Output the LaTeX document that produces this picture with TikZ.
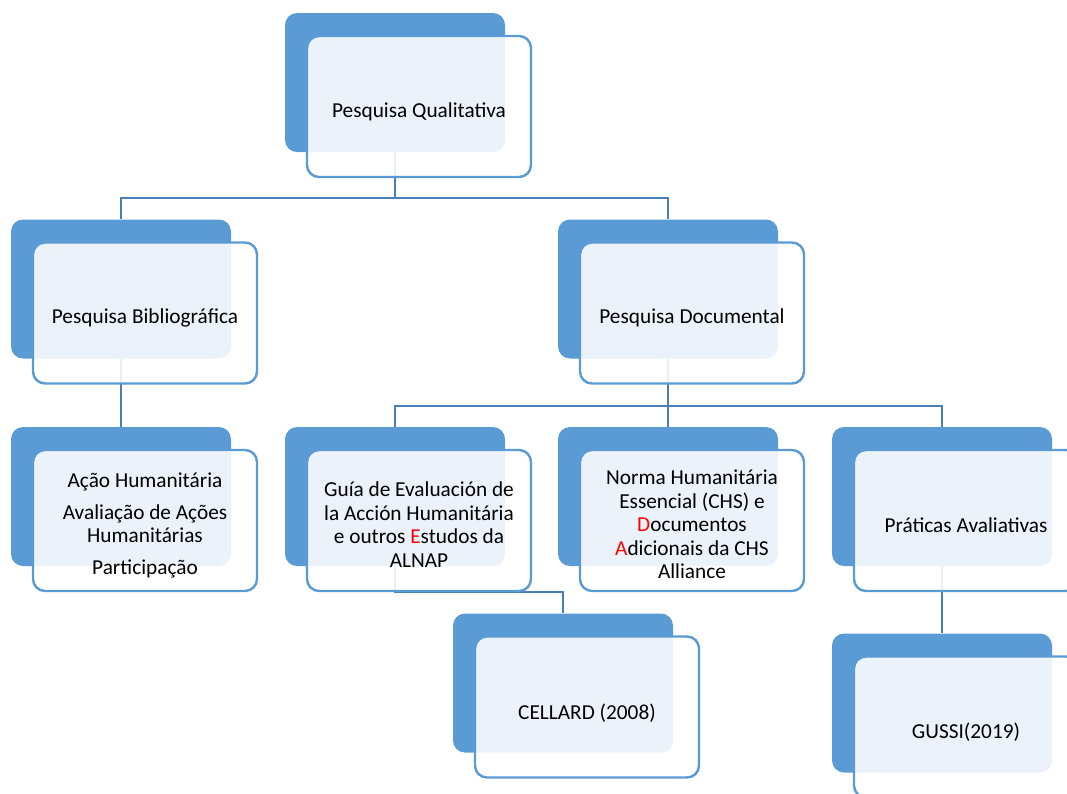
\documentclass[tikz,border=0pt]{standalone}
\usepackage{fontspec}
\setmainfont{Carlito}
\usetikzlibrary{calc}
\definecolor{boxblue}{HTML}{5B9BD5}
\definecolor{linkblue}{HTML}{4A7EBB}
\tikzset{
	backbox/.style={draw=none, fill=boxblue, rounded corners=12pt, minimum width=220pt, minimum height=139pt, inner sep=0pt},
	frontbox/.style={draw=boxblue, line width=2.4pt, fill=white, fill opacity=0.88, rounded corners=12pt, minimum width=224pt, minimum height=141pt, inner sep=0pt},
	boxtext/.style={inner sep=0pt, align=center, font=\fontsize{21.3}{23.5}\selectfont},
	link/.style={draw=linkblue, line width=2.4pt},
}
\newcommand{\redch}[1]{\textcolor{red}{#1}}

\begin{document}
\begin{tikzpicture}[x=1pt, y=-1pt]
		%%%%% START %%%%%
		\useasboundingbox (0,0) rectangle (1067,793);
		
		% back boxes
		\node[backbox] (qualback) at (395, 82.5) {};
		\node[backbox] (biblioback) at (121, 289) {};
		\node[backbox] (docback) at (668, 289) {};
		\node[backbox] (acaoback) at (121, 496.5) {};
		\node[backbox] (guiaback) at (395, 496.5) {};
		\node[backbox] (normaback) at (668, 496.5) {};
		\node[backbox] (praticback) at (942, 496.5) {};
		\node[backbox] (cellback) at (563, 683) {};
		\node[backbox] (gussiback) at (942, 703) {};
		
		% links
		\draw[link] (qualback.south) -- ++(0,46) -| (biblioback.north);
		\draw[link] (qualback.south) -- ++(0,46) -| (docback.north);
		\draw[link] (biblioback.south) -- (acaoback.north);
		\draw[link] (docback.south) -- ++(0,47) -| (guiaback.north);
		\draw[link] (docback.south) -- (normaback.north);
		\draw[link] (docback.south) -- ++(0,47) -| (praticback.north);
		\draw[link] (guiaback.south) -- ++(0,26) -| (cellback.north);
		\draw[link] (praticback.south) -- (gussiback.north);
		
		% front boxes
		\node[frontbox] (qual) at ($(qualback.center)+(24,24)$) {};
		\node[frontbox] (biblio) at ($(biblioback.center)+(24,24)$) {};
		\node[frontbox] (doc) at ($(docback.center)+(24,24)$) {};
		\node[frontbox] (acao) at ($(acaoback.center)+(24,24)$) {};
		\node[frontbox] (guia) at ($(guiaback.center)+(24,24)$) {};
		\node[frontbox] (norma) at ($(normaback.center)+(24,24)$) {};
		\node[frontbox] (pratic) at ($(praticback.center)+(24,24)$) {};
		\node[frontbox] (cell) at ($(cellback.center)+(24,24)$) {};
		\node[frontbox] (gussi) at ($(gussiback.center)+(24,24)$) {};
		
		% texts
		\node[boxtext] (qualtext) at ($(qual.center)+(0,5)$) {Pesquisa Qualitativa};
		\node[boxtext] (bibliotext) at ($(biblio.center)+(0,5)$) {Pesquisa Bibliográfica};
		\node[boxtext] (doctext) at ($(doc.center)+(0,5)$) {Pesquisa Documental};
		\node[boxtext] (acaotext) at ($(acao.center)+(0,5)$) {Ação Humanitária\\[8.5pt]Avaliação de Ações\\Humanitárias\\[8.5pt]Participação};
		\node[boxtext] (guiatext) at ($(guia.center)+(0,4)$) {Guía de Evaluación de\\la Acción Humanitária\\e outros \redch{E}studos da\\ALNAP};
		\node[boxtext] (normatext) at ($(norma.center)+(0,4)$) {Norma Humanitária\\Essencial (CHS) e\\\redch{D}ocumentos\\\redch{A}dicionais da CHS\\Alliance};
		\node[boxtext] (pratictext) at ($(pratic.center)+(0,5)$) {Práticas Avaliativas};
		\node[boxtext] (celltext) at ($(cell.center)+(0,6)$) {CELLARD (2008)};
		\node[boxtext] (gussitext) at ($(gussi.center)+(0,5)$) {GUSSI(2019)};
		%%%%% END %%%%%
\end{tikzpicture}
\end{document}
